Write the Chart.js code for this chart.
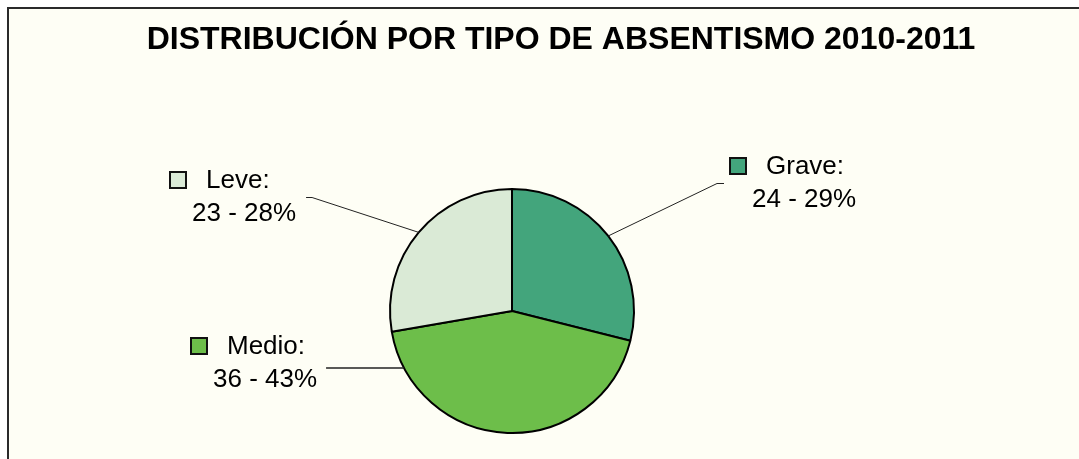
<!DOCTYPE html>
<html>
<head>
<meta charset="utf-8">
<script src="https://cdn.jsdelivr.net/npm/chart.js@4"></script>
<style>
  html, body { margin: 0; padding: 0; background: #ffffff; overflow: hidden; width: 1079px; height: 459px; }
  #frame { position: absolute; left: 7px; top: 7px; width: 1120px; height: 480px;
           border-left: 2px solid #2a2a2a; border-top: 2px solid #2a2a2a; background: #fefef5; }
  #c { position: absolute; left: 0; top: 0; }
</style>
</head>
<body>
<div id="frame"><canvas id="c" width="1100" height="460"></canvas></div>
<script>
// datos
var titulo = "DISTRIBUCIÓN POR TIPO DE ABSENTISMO 2010-2011";
var categorias = ["Grave", "Medio", "Leve"];
var valores = [24, 36, 23];
var porcentajes = [29, 43, 28];
var colores = ["#43a57c", "#6dbe4a", "#daead6"];

// where each label box sits, relative to the pie centre (px)
var posEtiquetas = [
  { dx: 217, dy: -145, lado: "izq" },
  { dx: -322, dy: 35, lado: "der", horizontal: true },
  { dx: -343, dy: -131, lado: "der" }
];

var fuente = '"Liberation Sans", Arial, sans-serif';

var etiquetasPlugin = {
  id: 'etiquetas',
  afterDraw: function (chart) {
    var ctx = chart.ctx;
    ctx.save();
    // title
    ctx.fillStyle = '#000';
    ctx.font = 'bold 32px ' + fuente;
    ctx.textAlign = 'center';
    ctx.textBaseline = 'alphabetic';
    ctx.fillText(titulo, 552, 40);

    var meta = chart.getDatasetMeta(0);
    meta.data.forEach(function (arc, i) {
      var cx = arc.x, cy = arc.y, r = arc.outerRadius;
      var p = posEtiquetas[i];
      var L = cx + p.dx, y1 = cy + p.dy, y2 = y1 + 33;
      ctx.font = '26px ' + fuente;
      ctx.textBaseline = 'middle';
      ctx.textAlign = 'left';
      var linea1 = categorias[i] + ':';
      var linea2 = valores[i] + ' - ' + porcentajes[i] + '%';
      // legend key
      ctx.fillStyle = colores[i];
      ctx.fillRect(L + 1, y1 - 8, 16, 16);
      ctx.lineWidth = 2;
      ctx.strokeStyle = '#111';
      ctx.strokeRect(L + 1, y1 - 8, 16, 16);
      ctx.fillStyle = '#000';
      ctx.fillText(linea1, L + 37, y1 + 1);
      ctx.fillText(linea2, L + 23, y2 + 1);
      var w2 = ctx.measureText(linea2).width;

      // leader line
      var mid = (arc.startAngle + arc.endAngle) / 2;
      var ex = cx + Math.cos(mid) * r, ey = cy + Math.sin(mid) * r;
      var hy = (y1 + y2) / 2 + 1;
      ctx.lineWidth = 1;
      ctx.strokeStyle = '#222';
      ctx.beginPath();
      if (p.horizontal) {
        hy = y2 - 11;
        var hx = L + 23 + w2 + 9;
        var ddy = hy - cy;
        ex = cx - Math.sqrt(r * r - ddy * ddy);
        ctx.lineWidth = 1.5;
        ctx.moveTo(hx, hy);
        ctx.lineTo(ex, hy);
      } else if (p.lado === 'izq') {
        var hx2 = L - 5;
        ctx.moveTo(hx2, hy);
        ctx.lineTo(hx2 - 7, hy);
        ctx.lineTo(ex, ey);
      } else {
        var hx3 = L + 23 + w2 + 10;
        ctx.moveTo(hx3, hy);
        ctx.lineTo(hx3 + 6, hy);
        ctx.lineTo(ex, ey);
      }
      ctx.stroke();
    });
    ctx.restore();
  }
};

var chart = new Chart(document.getElementById('c'), {
  type: 'pie',
  data: {
    labels: categorias,
    datasets: [{
      data: valores,
      backgroundColor: colores,
      borderColor: '#000',
      borderWidth: 2,
      radius: 122
    }]
  },
  options: {
    responsive: false,
    animation: false,
    devicePixelRatio: 1,
    layout: { padding: { left: 373, right: 467, top: 172, bottom: 28 } },
    plugins: {
      legend: { display: false },
      tooltip: { enabled: false },
      title: { display: false }
    }
  },
  plugins: [etiquetasPlugin]
});
</script>
</body>
</html>
